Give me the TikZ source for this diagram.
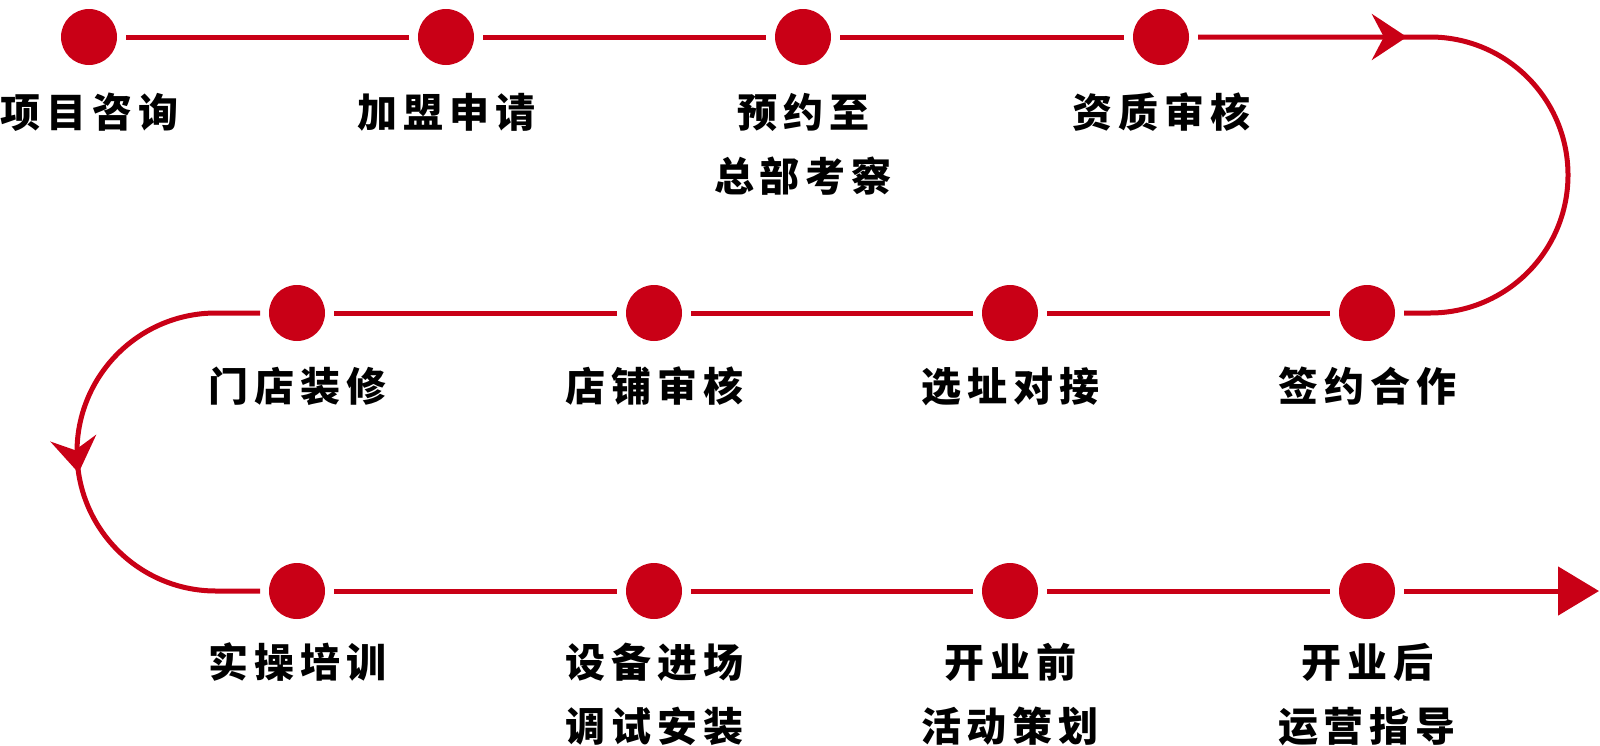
\documentclass[tikz,border=0pt]{standalone}
\usepackage{fontspec}
\newfontfamily\cjk{Noto Sans CJK SC}[LetterSpace=15]
\usetikzlibrary{arrows.meta,decorations.markings}
\definecolor{rosso}{RGB}{201,0,22}
\tikzset{
	tappa/.style={circle, fill=rosso, minimum size=56pt, inner sep=0pt, outer sep=9pt},
	linea/.style={draw=rosso, line width=5pt},
	etichetta/.style={align=center, anchor=base, inner sep=0pt, font=\cjk\bfseries\fontsize{40}{64}\selectfont},
	freccia/.style={postaction={decorate}, decoration={markings, mark=at position #1 with {\arrow{Stealth[length=35pt, width=46pt, inset=12pt]}}}}
}

\begin{document}
\begin{tikzpicture}[x=1pt, y=-1pt]
		\useasboundingbox (0,0) rectangle (1600,745);
		%Tappe
		\node[tappa] (p1) at (89,37) {};
		\node[tappa] (p2) at (446,37) {};
		\node[tappa] (p3) at (803,37) {};
		\node[tappa] (p4) at (1161,37) {};
		\node[tappa] (p5) at (297,313) {};
		\node[tappa] (p6) at (654,313) {};
		\node[tappa] (p7) at (1010,313) {};
		\node[tappa] (p8) at (1367,313) {};
		\node[tappa] (p9) at (297,591) {};
		\node[tappa] (p10) at (654,591) {};
		\node[tappa] (p11) at (1010,591) {};
		\node[tappa] (p12) at (1367,591) {};
		%Curve
		\coordinate (a1) at (1430,37);
		\coordinate (a2) at (216,313);
		\coordinate (fine) at (1599,591);
		%Collegamenti
		\draw[linea] (p1) -- (p2);
		\draw[linea] (p2) -- (p3);
		\draw[linea] (p3) -- (p4);
		\draw[linea, freccia=0.302] (p4) -- (a1) arc[start angle=-90, end angle=90, radius=138] -- (p8);
		\draw[linea] (p8) -- (p7);
		\draw[linea] (p7) -- (p6);
		\draw[linea] (p6) -- (p5);
		\draw[linea, freccia=0.54] (p5) -- (a2) arc[start angle=-90, end angle=-270, radius=139] -- (p9);
		\draw[linea] (p9) -- (p10);
		\draw[linea] (p10) -- (p11);
		\draw[linea] (p11) -- (p12);
		\draw[linea, -{Triangle[length=41pt, width=48pt]}] (p12) -- (fine);
		%Etichette (base = ultima riga)
		\node[etichetta] (l1) at (89,127) {项目咨询};
		\node[etichetta] (l2) at (446,127) {加盟申请};
		\node[etichetta] (l3) at (803,191) {预约至\\总部考察};
		\node[etichetta] (l4) at (1161,127) {资质审核};
		\node[etichetta] (l5) at (297,401) {门店装修};
		\node[etichetta] (l6) at (654,401) {店铺审核};
		\node[etichetta] (l7) at (1010,401) {选址对接};
		\node[etichetta] (l8) at (1367,401) {签约合作};
		\node[etichetta] (l9) at (297,677) {实操培训};
		\node[etichetta] (l10) at (654,741) {设备进场\\调试安装};
		\node[etichetta] (l11) at (1010,741) {开业前\\活动策划};
		\node[etichetta] (l12) at (1367,741) {开业后\\运营指导};
	\end{tikzpicture}
\end{document}
